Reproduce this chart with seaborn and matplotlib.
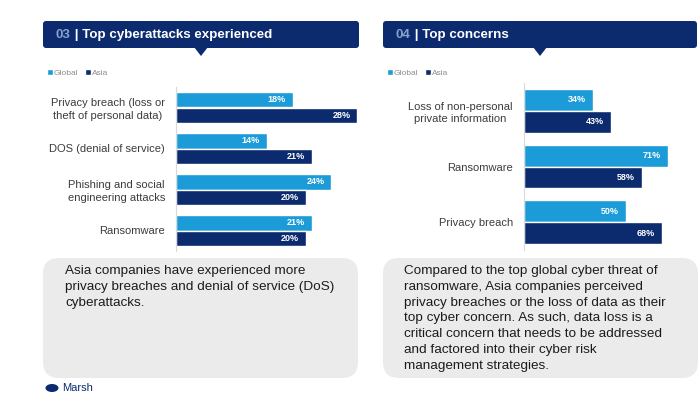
import pandas as pd
import matplotlib.pyplot as plt
import seaborn as sns
from matplotlib.patches import FancyBboxPatch, Polygon, Ellipse

# --- data ---
attack_labels = ["Privacy breach (loss or\ntheft of personal data)",
                 "DOS (denial of service)",
                 "Phishing and social\nengineering attacks",
                 "Ransomware"]
attack_global = [18, 14, 24, 21]
attack_asia = [28, 21, 20, 20]

concern_labels = ["Loss of non-personal\nprivate information",
                  "Ransomware",
                  "Privacy breach"]
concern_global = [34, 71, 50]
concern_asia = [43, 58, 68]

series = ["Global", "Asia"]

left_note = ("Asia companies have experienced more\n"
             "privacy breaches and denial of service (DoS)\n"
             "cyberattacks.")
right_note = ("Compared to the top global cyber threat of\n"
              "ransomware, Asia companies perceived\n"
              "privacy breaches or the loss of data as their\n"
              "top cyber concern. As such, data loss is a\n"
              "critical concern that needs to be addressed\n"
              "and factored into their cyber risk\n"
              "management strategies.")

# --- style ---
NAVY = "#0b2b6e"
LIGHT = "#1b9cd8"
W, H = 700, 393

sns.set_theme(style="white")
plt.rcParams["font.family"] = ["Liberation Sans", "DejaVu Sans"]

fig = plt.figure(figsize=(W / 100, H / 100), dpi=100)
fig.patch.set_facecolor("white")

# background axes in pixel units for the decorations
bg = fig.add_axes([0, 0, 1, 1])
bg.set_xlim(0, W)
bg.set_ylim(H, 0)
bg.axis("off")


def px_axes(x0, y0, x1, y1):
    return fig.add_axes([x0 / W, 1 - y1 / H, (x1 - x0) / W, (y1 - y0) / H])


def long_df(labels, g, a):
    return pd.DataFrame({
        "item": labels * 2,
        "region": [series[0]] * len(labels) + [series[1]] * len(labels),
        "pct": g + a,
    })


def draw_panel(x0, x1, num, title, tip_x, ax_box, xmax, labels, g, a, width):
    # header bar with pointer
    bg.add_patch(FancyBboxPatch((x0, 21), x1 - x0, 27,
                                boxstyle="round,pad=0,rounding_size=3",
                                fc=NAVY, ec="none"))
    bg.add_patch(Polygon([(tip_x - 7, 47), (tip_x + 7, 47), (tip_x, 56)],
                         closed=True, fc=NAVY, ec="none"))
    t = bg.text(x0 + 13, 35, num, color="#8aa0cf", fontsize=9.6,
                fontweight="bold", va="center", ha="left")
    bg.annotate(" | " + title, xy=(1, 0), xycoords=t, va="bottom", ha="left",
                color="white", fontsize=9.6, fontweight="bold")

    ax = px_axes(*ax_box)
    df = long_df(labels, g, a)
    sns.barplot(data=df, y="item", x="pct", hue="region", orient="h",
                palette=[LIGHT, NAVY], saturation=1, width=width, ax=ax)
    ax.set_xlim(0, xmax)
    ax.set_ylim(len(labels) - 0.5, -0.5)
    ax.set_xlabel("")
    ax.set_ylabel("")
    ax.set_xticks([])
    ax.tick_params(axis="y", length=0, pad=8, labelsize=8, labelcolor="#3c3c3c")
    for lbl in ax.get_yticklabels():
        lbl.set_multialignment("center")
        lbl.set_linespacing(1.3)
    for s in ["top", "right", "bottom"]:
        ax.spines[s].set_visible(False)
    ax.spines["left"].set_color("#d9d9d9")
    ax.spines["left"].set_linewidth(0.8)
    ax.patch.set_alpha(0)

    for c in ax.containers:
        for p, v in zip(c, c.datavalues):
            ax.annotate(f"{v:.0f}%", (p.get_x() + p.get_width(), p.get_y() + p.get_height() / 2),
                        xytext=(-5, 0), textcoords="offset points", ha="right", va="center",
                        color="white", fontsize=6.5, fontweight="bold")

    handles, names = ax.get_legend_handles_labels()
    ax.legend(handles, names, loc="center left",
              bbox_to_anchor=((x0 + 4) / W, 1 - 73 / H), bbox_transform=fig.transFigure,
              ncol=2, frameon=False, fontsize=6, handlelength=0.7, handleheight=0.7,
              handletextpad=0.15, columnspacing=0.8, borderaxespad=0, borderpad=0,
              labelcolor="#8c8c8c")
    return ax


draw_panel(43, 359, "03", "Top cyberattacks experienced", 201,
           (176, 87, 358, 251), 28.1, attack_labels, attack_global, attack_asia, 0.78)
draw_panel(383, 697, "04", "Top concerns", 540,
           (524, 83, 697, 250), 85.2, concern_labels, concern_global, concern_asia, 0.79)

# commentary boxes
for bx, note, tx in [(43, left_note, 65), (383, right_note, 404)]:
    bg.add_patch(FancyBboxPatch((bx, 258), 315, 120,
                                boxstyle="round,pad=0,rounding_size=16",
                                fc="#ebebeb", ec="none"))
    bg.text(tx, 265, note, ha="left", va="top", fontsize=9.7, color="#1c1c1c",
            linespacing=1.42)

# footer logo, sitting on the bottom edge
bg.add_patch(Ellipse((52, 388), 13, 8, fc=NAVY, ec="none"))
bg.text(62, 393, "Marsh", ha="left", va="bottom", fontsize=8, color=NAVY)

fig.savefig("out.png", dpi=100)
